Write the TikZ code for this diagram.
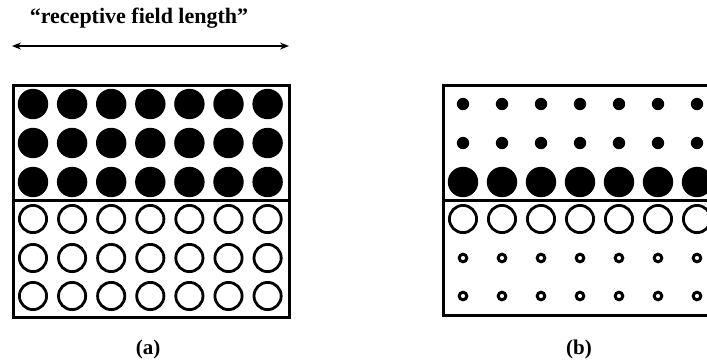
\documentclass[tikz,border=0pt]{standalone}
\usepackage{fontspec}
\setmainfont{Liberation Serif}
\usetikzlibrary{arrows.meta}
\begin{document}
\begin{tikzpicture}[x=1pt,y=-1pt,
  frame/.style={draw=black,line width=3pt},
  bigdot/.style={fill=black},
  ring/.style={draw=black,line width=2.8pt},
  smallring/.style={draw=black,line width=3pt},
  lbl/.style={font=\bfseries\fontsize{21}{23}\selectfont,inner sep=0pt},
  title/.style={font=\bfseries\fontsize{22}{25}\selectfont,inner sep=0pt},
  span/.style={line width=2.4pt,{Stealth[length=9pt,width=7pt]}-{Stealth[length=9pt,width=7pt]}}]
\useasboundingbox (0,0) rectangle (707,360);
\clip (0,0) rectangle (707,360);
\fill[white] (0,0) rectangle (707,360);
% title and arrow
\node[title] (ttl) at (139,18) {“receptive field length”};
\coordinate (al) at (12,46);
\coordinate (ar) at (289,46);
\draw[span] (al) -- (ar);
% panel (a)
\draw[frame] (13,85) rectangle (289,317);
\draw[frame] (13,200) -- (289,200);
\foreach \i in {0,...,6} {
  \foreach \y in {104,143,182} {
    \fill[bigdot] (33+39.1*\i,\y) circle (15.2);
  }
  \foreach \y in {219,258,296} {
    \draw[ring] (33+39.1*\i,\y) circle (13.6);
  }
}
% panel (b)
\draw[frame] (443,85) rectangle (730,315);
\draw[frame] (443,200) -- (730,200);
\foreach \i in {0,...,6} {
  \foreach \y in {104,143} {
    \fill[bigdot] (463+39*\i,\y) circle (6.2);
  }
  \fill[bigdot] (463+39*\i,182) circle (15.2);
  \draw[ring] (463+39*\i,219) circle (13.6);
  \foreach \y in {258,296} {
    \draw[smallring] (463+39*\i,\y) circle (3.8);
  }
}
% labels
\node[lbl] (la) at (148,349) {(a)};
\node[lbl] (lb) at (579,349) {(b)};
\end{tikzpicture}
\end{document}
